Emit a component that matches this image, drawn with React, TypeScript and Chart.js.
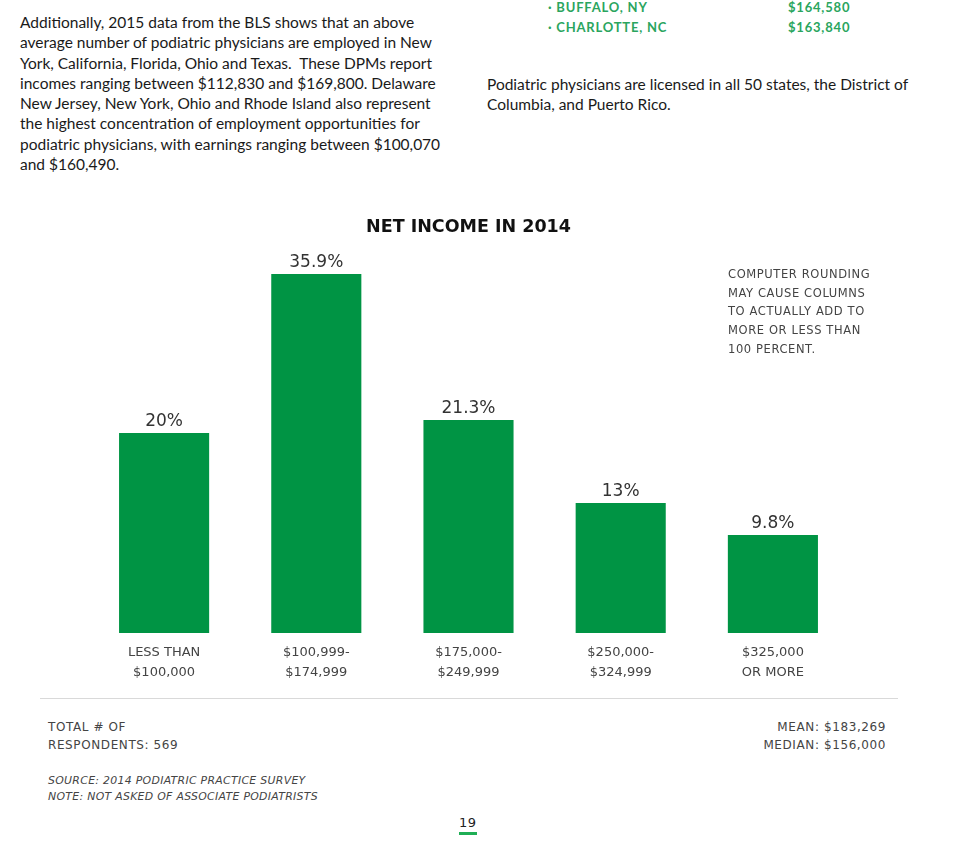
import React, { useEffect, useRef } from "react";
import { Chart, registerables } from "chart.js";

Chart.register(...registerables);

const categories: string[][] = [
  ["LESS THAN", "$100,000"],
  ["$100,999-", "$174,999"],
  ["$175,000-", "$249,999"],
  ["$250,000-", "$324,999"],
  ["$325,000", "OR MORE"],
];
const shares: number[] = [20, 35.9, 21.3, 13, 9.8];
const shareLabels: string[] = ["20%", "35.9%", "21.3%", "13%", "9.8%"];
const chartTitle = "NET INCOME IN 2014";

const GREEN = "#009444";

const valueLabelPlugin = {
  id: "valueLabels",
  afterDatasetsDraw(chart: any) {
    const ctx = chart.ctx;
    const meta = chart.getDatasetMeta(0);
    ctx.save();
    ctx.font = "17px 'DejaVu Sans'";
    ctx.fillStyle = "#333333";
    ctx.textAlign = "center";
    ctx.textBaseline = "bottom";
    meta.data.forEach((bar: any, i: number) => {
      ctx.fillText(shareLabels[i], bar.x, bar.y - 3);
    });
    ctx.restore();
  },
};

function IncomeChart() {
  const ref = useRef<HTMLCanvasElement | null>(null);
  useEffect(() => {
    if (!ref.current) return;
    const chart = new Chart(ref.current, {
      type: "bar",
      data: {
        labels: categories,
        datasets: [
          {
            data: shares,
            backgroundColor: GREEN,
            borderWidth: 0,
            barPercentage: 0.592,
            categoryPercentage: 1,
          },
        ],
      },
      options: {
        animation: false,
        responsive: false,
        maintainAspectRatio: false,
        layout: { padding: { top: 0, left: 48, right: 51, bottom: 15 } },
        plugins: {
          legend: { display: false },
          tooltip: { enabled: false },
          title: {
            display: true,
            text: chartTitle,
            color: "#111111",
            font: { family: "'DejaVu Sans'", size: 17.5, weight: "bold", lineHeight: 1.2 },
            padding: { top: 7, bottom: 15 },
          },
        },
        scales: {
          x: {
            grid: { display: false },
            border: { display: false },
            ticks: {
              color: "#444444",
              font: { family: "'DejaVu Sans'", size: 13, lineHeight: 20 / 13 },
              padding: 2,
              maxRotation: 0,
              autoSkip: false,
            },
          },
          y: {
            display: false,
            min: 0,
            max: 38,
          },
        },
      },
      plugins: [valueLabelPlugin],
    });
    return () => chart.destroy();
  }, []);
  return (
    <canvas
      ref={ref}
      width={860}
      height={490}
      style={{ position: "absolute", left: 40, top: 210, width: 860, height: 490 }}
    />
  );
}

const body: React.CSSProperties = {
  position: "absolute",
  fontFamily: "Lato, 'Open Sans', sans-serif",
  fontSize: 15.5,
  lineHeight: "20.3px",
  color: "#1a1a1a",
  whiteSpace: "nowrap",
  margin: 0,
};

const caps: React.CSSProperties = {
  position: "absolute",
  fontFamily: "'DejaVu Sans', sans-serif",
  fontSize: 11.5,
  letterSpacing: 0.6,
  color: "#444444",
  whiteSpace: "nowrap",
  margin: 0,
};

const greenCaps: React.CSSProperties = {
  ...caps,
  top: -3,
  fontFamily: "Lato, sans-serif",
  fontSize: 13,
  fontWeight: 700,
  letterSpacing: 0.8,
  color: "#2aa55e",
  lineHeight: "20px",
};

export default function App() {
  return (
    <div style={{ position: "absolute", left: 0, top: 0, width: 964, height: 860, background: "#fff", overflow: "hidden" }}>
      <p style={{ ...body, left: 20, top: 12 }}>
        Additionally, 2015 data from the BLS shows that an above<br />
        average number of podiatric physicians are employed in New<br />
        York, California, Florida, Ohio and Texas.&nbsp; These DPMs report<br />
        incomes ranging between $112,830 and $169,800. Delaware<br />
        New Jersey, New York, Ohio and Rhode Island also represent<br />
        the highest concentration of employment opportunities for<br />
        podiatric physicians, with earnings ranging between $100,070<br />
        and $160,490.
      </p>

      <div style={{ ...greenCaps, left: 548 }}>
        · BUFFALO, NY<br />· CHARLOTTE, NC
      </div>
      <div style={{ ...greenCaps, left: 788 }}>
        $164,580<br />$163,840
      </div>

      <p style={{ ...body, left: 487, top: 74 }}>
        Podiatric physicians are licensed in all 50 states, the District of<br />
        Columbia, and Puerto Rico.
      </p>

      <IncomeChart />

      <div style={{ ...caps, left: 728, top: 265, lineHeight: "18.7px" }}>
        COMPUTER ROUNDING<br />
        MAY CAUSE COLUMNS<br />
        TO ACTUALLY ADD TO<br />
        MORE OR LESS THAN<br />
        100 PERCENT.
      </div>

      <div style={{ position: "absolute", left: 40, top: 698, width: 858, height: 1, background: "#d9d9d9" }} />

      <div style={{ ...caps, left: 48, top: 719, fontSize: 12, lineHeight: "17.5px" }}>
        TOTAL # OF<br />RESPONDENTS: 569
      </div>
      <div style={{ ...caps, right: 964 - 886, top: 719, fontSize: 12, lineHeight: "17.5px", textAlign: "right" }}>
        MEAN: $183,269<br />MEDIAN: $156,000
      </div>

      <div style={{ ...caps, left: 48, top: 773, fontSize: 10.9, fontStyle: "italic", letterSpacing: 0.3, lineHeight: "16px" }}>
        SOURCE: 2014 PODIATRIC PRACTICE SURVEY<br />NOTE: NOT ASKED OF ASSOCIATE PODIATRISTS
      </div>

      <div style={{ ...caps, left: 459, top: 815, fontSize: 13, color: "#222", letterSpacing: 0.5 }}>19</div>
      <div style={{ position: "absolute", left: 459, top: 832, width: 18, height: 3, background: "#1fae55" }} />
    </div>
  );
}
